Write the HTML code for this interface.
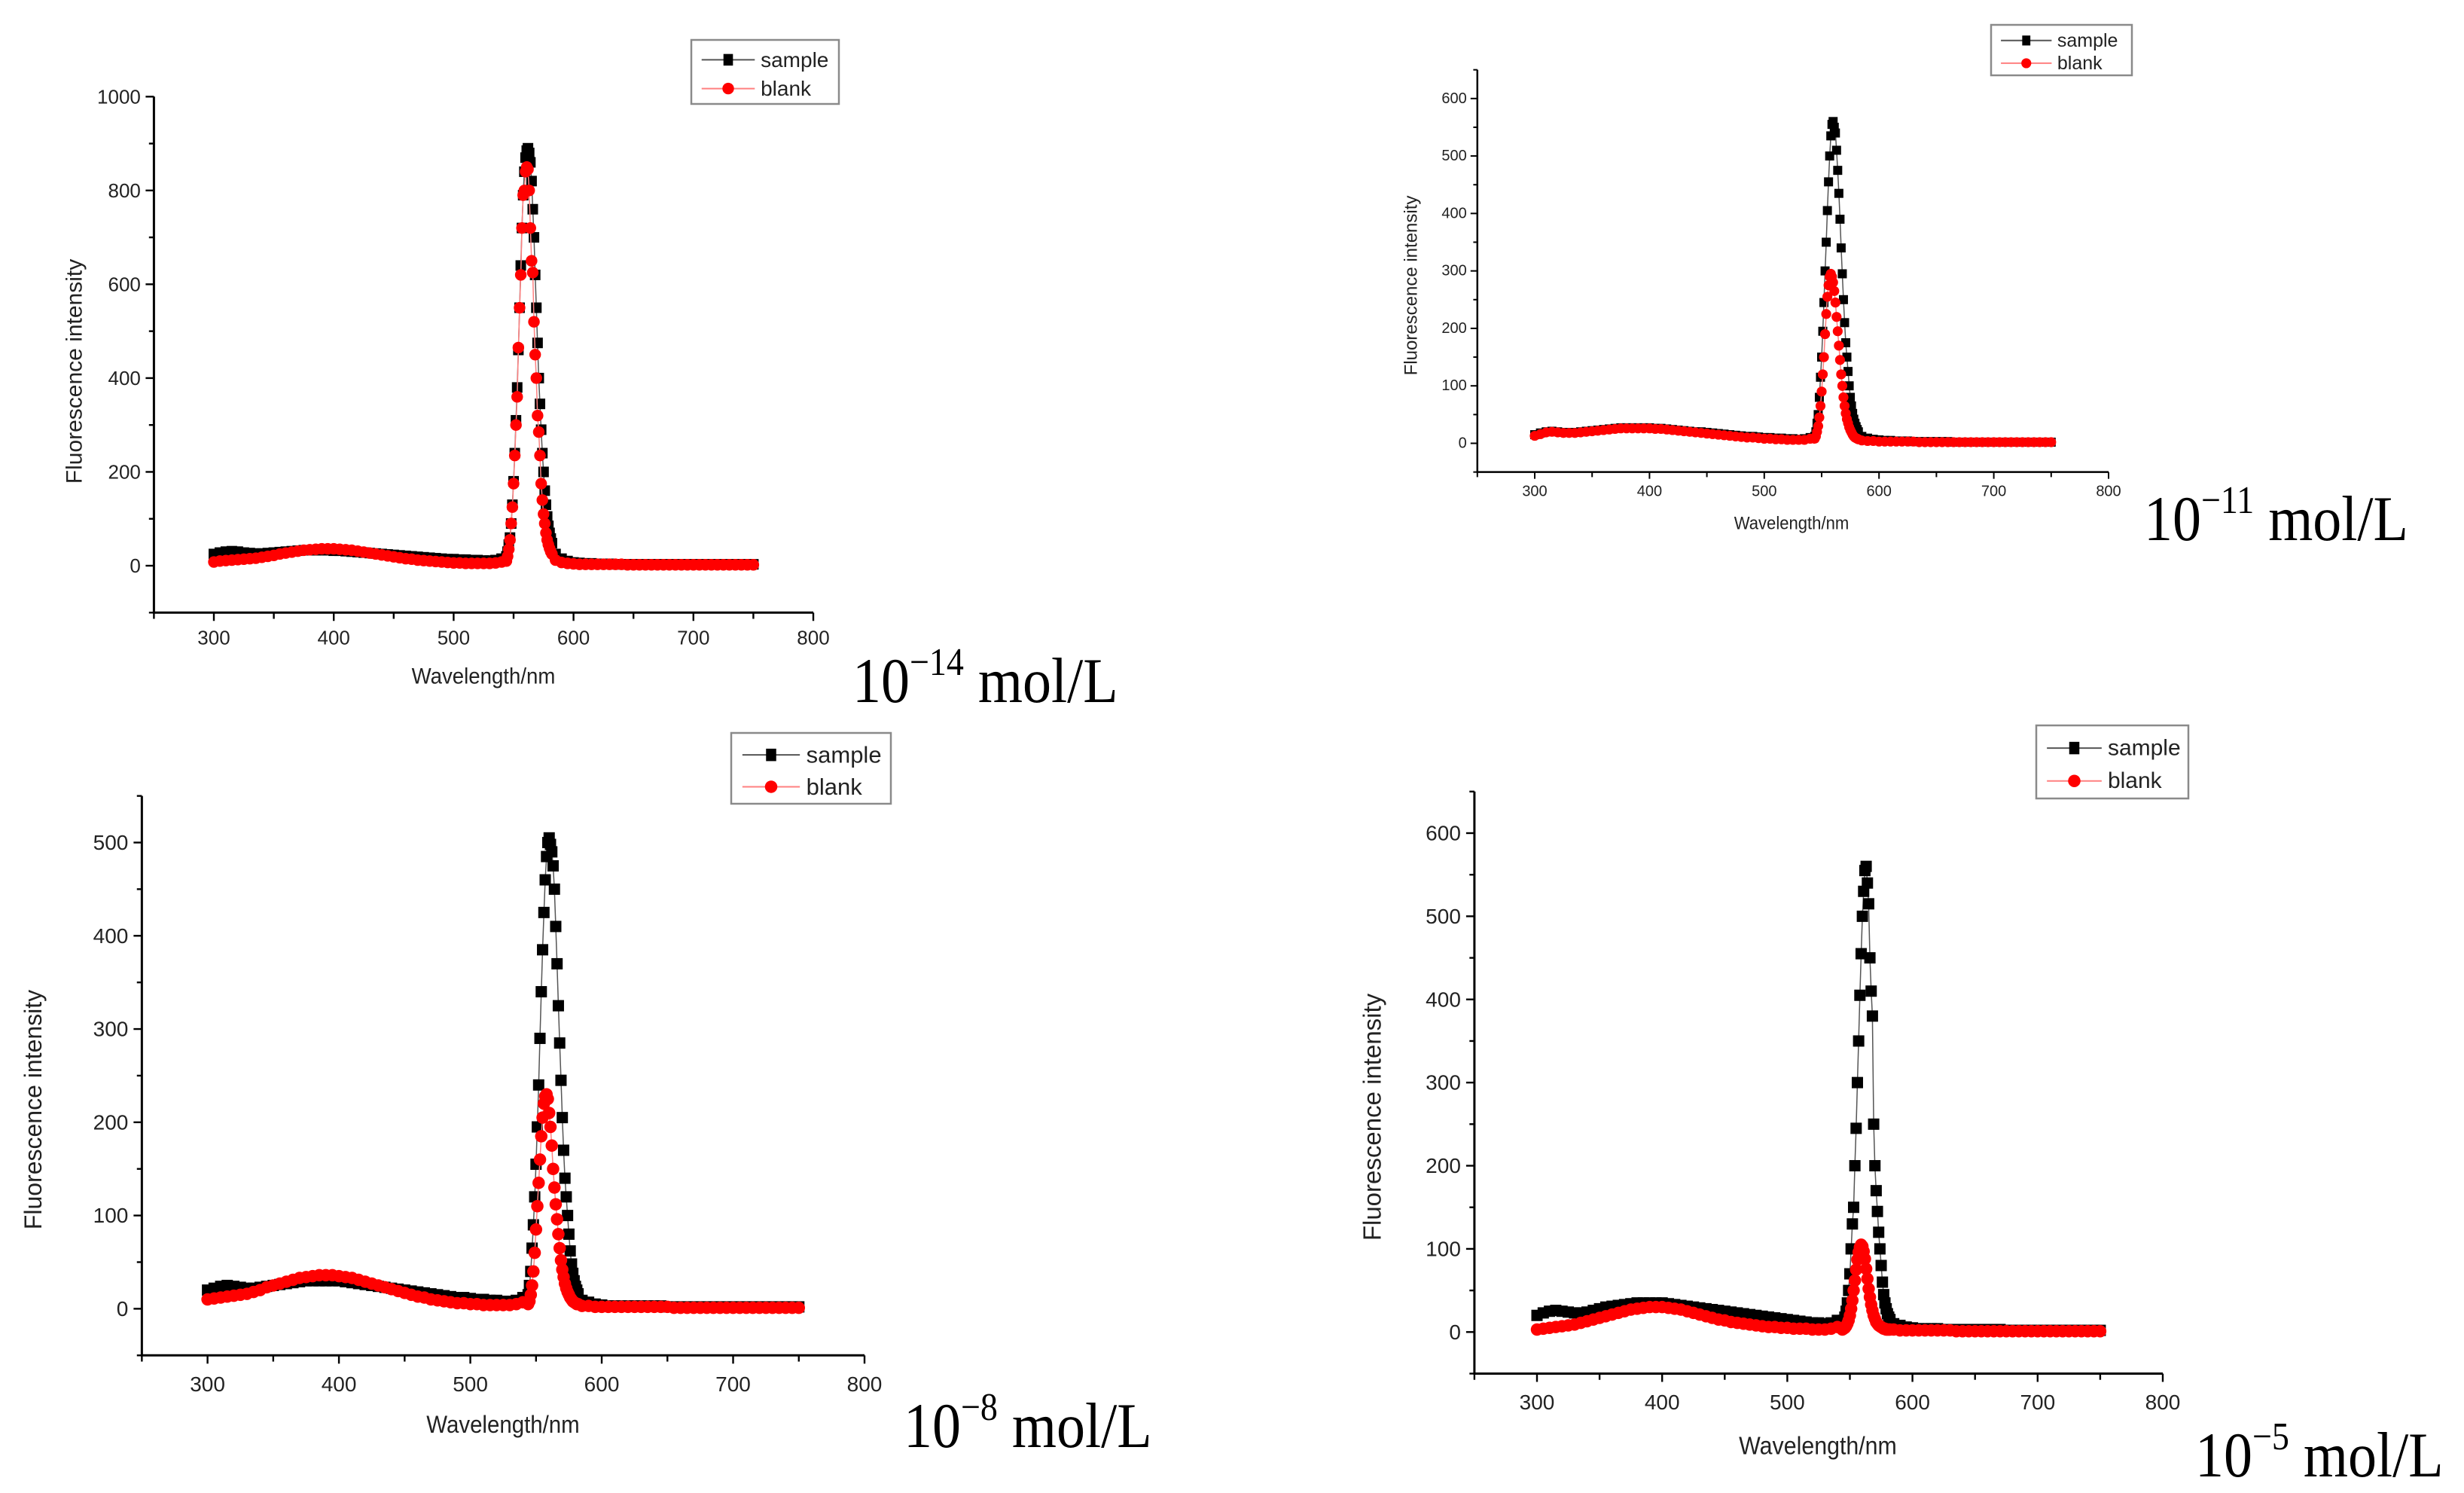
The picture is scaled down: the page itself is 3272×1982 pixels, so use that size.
<!DOCTYPE html>
<html><head><meta charset="utf-8"><style>
html,body{margin:0;padding:0;background:#fff}
svg{display:block}
</style></head><body>
<svg id="fig" xmlns="http://www.w3.org/2000/svg" width="3272" height="1982" viewBox="0 0 3272 1982">
<rect x="0" y="0" width="3272" height="1982" fill="#ffffff"/>
</svg>
<script>
// ---- shared wavelength categories (nm) ----
const wlBase = [300,305,310,315,320,325,330,335,340,345,350,355,360,365,370,375,380,385,390,395,400,405,410,415,420,425,430,435,440,445,450,455,460,465,470,475,480,485,490,495,500,505,510,515,520,525,530,535,540];
const wlPeak = [544,545,546,547,548,549,550,551,552,553,554,555,556,557,558,559,560,561,562,563,564,565,566,567,568,569,570,571,572,573,574,575,576,577,578,579,580,581,582];
const wlTail = [585,590,595,600,605,610,615,620,625,630,635,640,645,650,655,660,665,670,675,680,685,690,695,700,705,710,715,720,725,730,735,740,745,750];

// ---- panel 1 (1e-14 mol/L) ----
const p1SampleBase = [25,28,30,31,30,28,27,26,26,27, 28,29,30,31,32,33,33,33,33,33, 32,32,31,30,29,28,27,26,25,24, 23,22,21,20,19,18,17,16,15,14, 14,13,13,12,12,11,11,12,15];
const p1SamplePeak = [20,30,45,60,90,130,180,240,310,380, 460,550,640,720,790,840,870,885,890,880, 860,820,760,700,620,550,475,400,345,290, 240,200,160,130,105,85,70,58,48];
const p1SampleTail = [25,15,10,7, 6,5,5,4,4, 4,3,3,3,3, 3,3,3,3,3, 3,3,3,3,3, 3,3,3,3,3, 3,3,3,3,3];
const p1BlankBase = [8,10,11,12,13,14,15,16,18,20, 22,25,27,29,31,33,34,35,36,36, 36,35,34,33,31,29,27,25,23,21, 19,17,15,14,12,11,10,9,8,7, 6,6,5,5,5,5,5,6,8];
const p1BlankPeak = [10,20,35,55,90,125,175,235,300,360, 465,550,620,720,790,800,840,850,845,800, 720,650,625,520,450,400,320,285,235,175, 140,110,90,70,55,45,37,30,25];
const p1BlankTail = [12,7,5,4, 3,3,3,3,3, 3,3,3,2,2, 2,2,2,2,2, 2,2,2,2,2, 2,2,2,2,2, 2,2,2,2,2];

// ---- panel 2 (1e-11 mol/L) ----
const p2SampleBase = [15,18,20,21,20,19,19,19,20,21, 22,23,24,25,26,27,27,27,27,27, 27,26,26,25,24,23,22,21,20,20, 19,18,17,16,15,14,13,12,12,11, 10,10,9,9,8,8,7,8,10];
const p2SamplePeak = [12,20,35,50,80,115,150,195,245,300, 350,405,455,500,535,555,560,550,540,510, 475,435,390,340,295,250,210,175,150,125, 100,80,65,52,42,35,29,24,20];
const p2SampleTail = [12,9,7,6, 5,5,4,4,4, 3,3,3,3,3, 3,3,2,2,2, 2,2,2,2,2, 2,2,2,2,2, 2,2,2,2,2];
const p2BlankBase = [13,16,19,20,19,18,18,18,19,20, 21,22,23,24,25,26,26,26,26,26, 26,25,25,24,23,22,21,20,19,18, 17,16,15,14,13,12,11,10,10,9, 8,8,7,7,6,6,6,6,8];
const p2BlankPeak = [8,12,20,30,45,65,90,120,150,190, 225,255,275,290,295,290,280,265,245,220, 195,170,145,120,100,80,65,52,42,35, 28,23,19,15,12,10,9,8,7];
const p2BlankTail = [5,4,4,3, 3,3,3,3,3, 3,2,2,2,2, 2,2,2,2,2, 2,2,2,2,2, 2,2,2,2,2, 2,2,2,2,2];

// ---- panel 3 (1e-8 mol/L) ----
const p3SampleBase = [20,22,24,25,24,23,22,22,23,24, 25,26,27,28,29,30,30,30,30,30, 30,29,28,27,26,25,24,23,22,21, 20,19,18,17,16,15,14,13,12,12, 11,10,10,9,9,8,8,9,12];
const p3SamplePeak = [15,25,40,65,90,120,155,195,240,290, 340,385,425,460,485,500,505,498,490,475, 450,410,370,325,285,245,205,170,140,120, 100,80,62,48,38,30,24,20,16];
const p3SampleTail = [9,7,5,4, 3,3,3,3,3, 3,3,3,3,2, 2,2,2,2,2, 2,2,2,2,2, 2,2,2,2,2, 2,2,2,2,2];
const p3BlankBase = [10,11,12,13,14,15,16,18,20,23, 25,27,29,31,33,34,35,36,36,36, 35,34,33,31,29,27,25,23,21,19, 17,15,13,12,10,9,8,7,6,6, 5,5,4,4,4,4,4,5,7];
const p3BlankPeak = [5,8,15,25,40,60,85,110,135,160, 185,205,220,228,230,225,210,195,175,150, 130,112,96,80,65,52,42,34,27,22, 18,15,12,10,8,7,6,5,5];
const p3BlankTail = [3,3,2,2, 2,2,2,2,2, 2,2,2,2,2, 1,1,1,1,1, 1,1,1,1,1, 1,1,1,1,1, 1,1,1,1,1];

// ---- panel 4 (1e-5 mol/L) ----
const p4SampleBase = [20,23,25,26,25,24,23,23,24,26, 28,30,31,32,33,34,35,35,35,35, 35,34,33,32,31,30,29,28,27,26, 25,24,23,22,21,20,19,18,17,16, 15,14,13,12,11,11,10,11,14];
const p4SamplePeak = [12,14,18,25,35,50,70,100,130,150, 200,245,300,350,405,455,500,530,555,560, 540,515,450,410,380,250,200,170,145,120, 100,80,60,45,35,28,22,18,15];
const p4SampleTail = [10,8,6,5, 4,4,4,4,3, 3,3,3,3,3, 3,3,3,3,2, 2,2,2,2,2, 2,2,2,2,2, 2,2,2,2,2];
const p4BlankBase = [3,4,5,6,7,8,9,11,13,15, 17,19,21,23,25,27,28,29,30,30, 30,29,28,27,25,23,21,19,17,15, 14,12,11,10,9,8,7,6,6,5, 5,4,4,4,3,3,3,4,6];
const p4BlankPeak = [3,4,5,7,10,14,20,28,38,50, 62,75,87,96,102,105,103,97,88,76, 64,52,42,33,26,20,16,12,10,8, 7,6,5,4,4,3,3,3,3];
const p4BlankTail = [3,2,2,2, 2,2,2,2,2, 2,1,1,1,1, 1,1,1,1,1, 1,1,1,1,1, 1,1,1,1,1, 1,1,1,1,1];

// ---- tick labels ----
const xTickLabels = [300,400,500,600,700,800];
const p1YTicks = [0,200,400,600,800,1000];
const p2YTicks = [0,100,200,300,400,500,600];
const p3YTicks = [0,100,200,300,400,500];
const p4YTicks = [0,100,200,300,400,500,600];
const legendNames = ['sample','blank'];

const NS = 'http://www.w3.org/2000/svg';
const svg = document.getElementById('fig');
function mk(tag, attrs, parent){
  const e = document.createElementNS(NS, tag);
  for (const k in attrs) e.setAttribute(k, attrs[k]);
  (parent||svg).appendChild(e);
  return e;
}

function drawPanel(id, L, sample, blank, yTicks, yMinorStep, concExp){
  const g = mk('g', {});
  
  
  const sx = v => L.px300 + (v - 300) * (L.px800 - L.px300) / 500;
  const sy = v => L.py0 + (v) * (L.pyTop - L.py0) / L.yTopVal;
  const xL = sx(250), xR = sx(800), yT = sy(L.yMax), yB = sy(L.yMin);
  const tk = L.tick;
  const ya = mk('line', {x1:xL, y1:yT, x2:xL, y2:yB, stroke:'#000', 'stroke-width':L.aw}, g);
  
  
  const xa = mk('line', {x1:xL - L.aw/2, y1:yB, x2:xR, y2:yB, stroke:'#000', 'stroke-width':L.aw}, g);
  
  
  for (let v = Math.ceil(L.yMin / yMinorStep) * yMinorStep; v <= L.yMax + 0.01; v += yMinorStep){
    const major = yTicks.indexOf(v) >= 0;
    mk('line', {x1:xL - (major ? tk : tk*0.6), y1:sy(v), x2:xL, y2:sy(v), stroke:'#000', 'stroke-width':L.aw*0.8}, g);
  }
  yTicks.forEach(v => {
    const t = mk('text', {x:xL - tk - L.fs*0.25, y:sy(v), 'font-size':L.fs, 'text-anchor':'end', 'dominant-baseline':'central', 'font-family':'Liberation Sans, sans-serif', fill:'#222'}, g);
    t.textContent = v;
    
    
  });
  for (let v = 250; v <= 800; v += 50){
    const major = xTickLabels.indexOf(v) >= 0;
    mk('line', {x1:sx(v), y1:yB, x2:sx(v), y2:yB + (major ? tk : tk*0.75), stroke:'#000', 'stroke-width':L.aw*0.8}, g);
  }
  xTickLabels.forEach(v => {
    const t = mk('text', {x:sx(v), y:yB + L.xlOff, 'font-size':L.fs, 'text-anchor':'middle', 'dominant-baseline':'central', 'font-family':'Liberation Sans, sans-serif', fill:'#222'}, g);
    t.textContent = v;
    
    
  });
  const yt = mk('text', {x:0, y:0, transform:'translate(' + L.ytX + ',' + L.ytY + ') rotate(-90)', 'font-size':L.tfs, 'text-anchor':'middle', 'dominant-baseline':'central', 'font-family':'Liberation Sans, sans-serif', fill:'#222'}, g);
  yt.textContent = 'Fluorescence intensity';
  
  
  const xt = mk('text', {x:L.xtX, y:L.xtY, 'font-size':L.tfs, 'text-anchor':'middle', 'dominant-baseline':'central', 'font-family':'Liberation Sans, sans-serif', fill:'#222', transform:'translate(' + L.xtX + ',0) scale(0.92,1) translate(' + (-L.xtX) + ',0)'}, g);
  xt.textContent = 'Wavelength/nm';
  
  
  const ms = L.ms;
  function series(xs, ys, color, lineColor, shape, name){
    const sg = mk('g', {}, g);
    
    
    const n = Math.min(xs.length, ys.length);
    let d = '';
    for (let i = 0; i < n; i++) d += (i ? 'L' : 'M') + sx(xs[i]).toFixed(1) + ',' + sy(ys[i]).toFixed(1);
    mk('path', {d:d, fill:'none', stroke:lineColor, 'stroke-width':1.5}, sg);
    for (let i = 0; i < n; i++){
      let m;
      if (shape === 'sq') m = mk('rect', {x:sx(xs[i]) - ms/2, y:sy(ys[i]) - ms/2, width:ms, height:ms, fill:color}, sg);
      else m = mk('circle', {cx:sx(xs[i]), cy:sy(ys[i]), r:ms*0.55, fill:color}, sg);
      
      
    }
  }
  const wl = wlBase.concat(wlPeak, wlTail);
  series(wl, sample, '#000', '#555', 'sq', 'sample');
  series(wl, blank, '#ff0000', '#ff8080', 'ci', 'blank');
  const lg = mk('g', {}, g);
  
  
  const [lx, ly, lw, lh] = L.leg;
  mk('rect', {x:lx, y:ly, width:lw, height:lh, fill:'#fff', stroke:'#8a8a8a', 'stroke-width':2.5}, lg);
  legendNames.forEach((nm, i) => {
    const ey = ly + lh * (i === 0 ? 0.31 : 0.76);
    const eg = mk('g', {}, lg);
    
    
    mk('line', {x1:lx + lw*0.07, y1:ey, x2:lx + lw*0.43, y2:ey, stroke:i ? '#ff8080' : '#555', 'stroke-width':2}, eg);
    if (i === 0) mk('rect', {x:lx + lw*0.25 - ms*0.45, y:ey - ms*0.55, width:ms*0.9, height:ms*1.1, fill:'#000'}, eg);
    else mk('circle', {cx:lx + lw*0.25, cy:ey, r:ms*0.55, fill:'#ff0000'}, eg);
    const t = mk('text', {x:lx + lw*0.47, y:ey, 'font-size':L.lfs, 'dominant-baseline':'central', 'font-family':'Liberation Sans, sans-serif', fill:'#222'}, eg);
    t.textContent = nm;
  });
  const an = mk('text', {x:L.anX, y:L.anY, 'font-size':76, 'font-family':'Liberation Serif, serif', fill:'#000',
    transform:'translate(0,' + L.anY + ') scale(1,1.12) translate(0,' + (-L.anY) + ')'}, g);
  
  
  const t1 = mk('tspan', {}, an); t1.textContent = '10';
  const t2 = mk('tspan', {dy:-32, 'font-size':46}, an); t2.textContent = '\u2212' + concExp;
  const t3 = mk('tspan', {dy:32}, an); t3.textContent = '\u00a0mol/L';
}

drawPanel('panel-1e-14', {px300:284, px800:1080, py0:751, pyTop:128.3, yTopVal:1000, yMin:-100, yMax:1000,
  aw:3, tick:11, fs:26, tfs:30, lfs:28, xlOff:33, ms:14, ytX:99, ytY:493, xtX:642, xtY:898,
  leg:[918,53,196,85], anX:1132, anY:932},
  p1SampleBase.concat(p1SamplePeak, p1SampleTail), p1BlankBase.concat(p1BlankPeak, p1BlankTail), p1YTicks, 100, '14');

drawPanel('panel-1e-11', {px300:2038, px800:2800, py0:588.5, pyTop:130.8, yTopVal:600, yMin:-50, yMax:650,
  aw:2.5, tick:9, fs:20, tfs:24, lfs:25, xlOff:26, ms:12, ytX:1874, ytY:379, xtX:2379, xtY:694,
  leg:[2644,33,187,67], anX:2847, anY:717},
  p2SampleBase.concat(p2SamplePeak, p2SampleTail), p2BlankBase.concat(p2BlankPeak, p2BlankTail), p2YTicks, 50, '11');

drawPanel('panel-1e-8', {px300:275.6, px800:1148, py0:1737.4, pyTop:1118.5, yTopVal:500, yMin:-50, yMax:550,
  aw:3, tick:11, fs:28, tfs:32, lfs:31, xlOff:38, ms:15, ytX:44, ytY:1473, xtX:668, xtY:1891,
  leg:[971,973,212,94], anX:1200, anY:1921},
  p3SampleBase.concat(p3SamplePeak, p3SampleTail), p3BlankBase.concat(p3BlankPeak, p3BlankTail), p3YTicks, 50, '8');

drawPanel('panel-1e-5', {px300:2041, px800:2872, py0:1768.3, pyTop:1106, yTopVal:600, yMin:-50, yMax:650,
  aw:3, tick:11, fs:28, tfs:33, lfs:30, xlOff:38, ms:15, ytX:1822, ytY:1483, xtX:2414, xtY:1919,
  leg:[2704,963,202,97], anX:2915, anY:1960},
  p4SampleBase.concat(p4SamplePeak, p4SampleTail), p4BlankBase.concat(p4BlankPeak, p4BlankTail), p4YTicks, 50, '5');
</script>
</body></html>
